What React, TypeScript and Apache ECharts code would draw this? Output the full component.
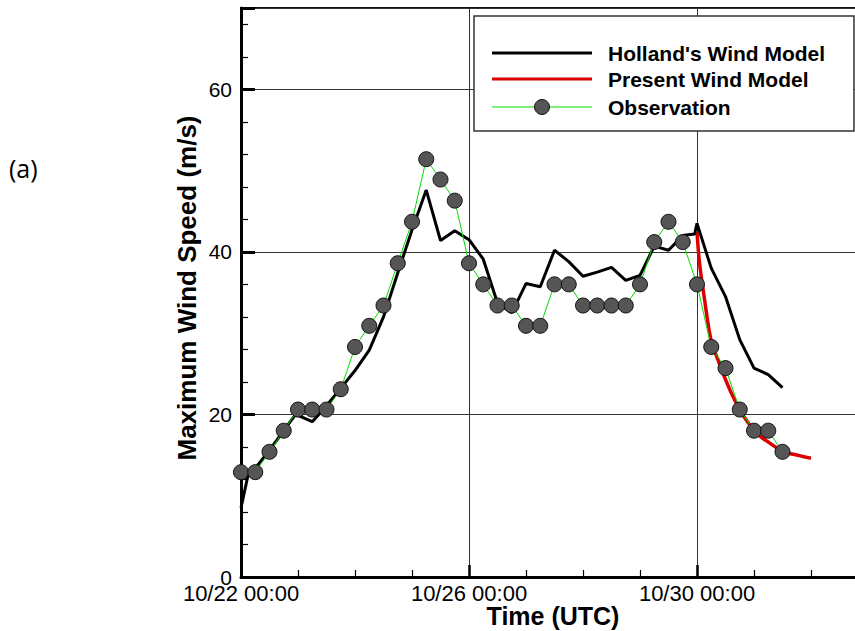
import React, { useEffect, useRef } from "react";
import * as echarts from "echarts";

// Hours since 10/22 00:00 UTC
const xTickLabels = ["10/22 00:00", "10/26 00:00", "10/30 00:00"];

const obsHours = [
  0, 6, 12, 18, 24, 30, 36, 42, 48, 54, 60, 66, 72, 78, 84, 90, 96, 102, 108,
  114, 120, 126, 132, 138, 144, 150, 156, 162, 168, 174, 180, 186, 192, 198,
  204, 210, 216, 222, 228,
];
const obsValues = [
  12.9, 12.9, 15.4, 18.0, 20.6, 20.6, 20.6, 23.1, 28.3, 30.9, 33.4, 38.6, 43.7,
  51.4, 48.9, 46.3, 38.6, 36.0, 33.4, 33.4, 30.9, 30.9, 36.0, 36.0, 33.4, 33.4,
  33.4, 33.4, 36.0, 41.2, 43.7, 41.2, 36.0, 28.3, 25.7, 20.6, 18.0, 18.0, 15.4,
];

const hollandHours = [
  0, 3, 6, 12, 18, 23, 30, 34, 42, 48, 54, 60, 66, 72, 78, 84, 90, 96, 102,
  108, 114, 120, 126, 132, 138, 144, 150, 156, 162, 168, 174, 180, 186, 191,
  192, 198, 204, 210, 216, 222, 228,
];
const hollandValues = [
  8.5, 12.6, 13.4, 15.6, 18.0, 20.0, 19.1, 20.4, 23.2, 25.4, 27.9, 32.0, 37.4,
  42.7, 47.6, 41.4, 42.6, 41.5, 39.1, 33.7, 32.5, 36.1, 35.7, 40.2, 38.8, 37.0,
  37.5, 38.1, 36.5, 37.1, 40.7, 40.2, 42.0, 42.2, 43.5, 38.0, 34.5, 29.2, 25.7,
  24.9, 23.3,
];

const presentHours = [
  192, 193, 195, 198, 201, 204, 207, 210, 213, 216, 219, 222, 225, 228, 231,
  234, 237, 240,
];
const presentValues = [
  42.5, 38.8, 34.5, 29.0, 26.6, 24.3, 22.3, 20.6, 19.2, 18.1, 17.2, 16.6, 16.0,
  15.5, 15.2, 15.0, 14.8, 14.6,
];

const pair = (xs: number[], ys: number[]) => xs.map((x, i) => [x, ys[i]]);

const FONT = "'Liberation Sans', Arial, sans-serif";

export default function App() {
  const ref = useRef<HTMLDivElement>(null);

  useEffect(() => {
    document.body.style.margin = "0";
    if (!ref.current) return;
    const chart = echarts.init(ref.current, undefined, { renderer: "svg" });

    const legendTop = 16;
    const legendRows = [53, 79, 107];

    chart.setOption({
      animation: false,
      backgroundColor: "#fff",
      grid: {
        show: true,
        left: 241,
        top: 8,
        width: 627,
        height: 569,
        borderColor: "#111",
        borderWidth: 2,
        backgroundColor: "transparent",
      },
      xAxis: [
        {
          type: "value",
          min: 0,
          max: 264,
          interval: 96,
          position: "bottom",
          axisLine: { show: true, lineStyle: { color: "#000", width: 3 } },
          axisTick: { show: true, inside: true, length: 12, lineStyle: { color: "#000", width: 2.5 } },
          splitLine: { show: true, lineStyle: { color: "#333", width: 1 } },
          axisLabel: {
            color: "#000",
            fontFamily: FONT,
            fontSize: 22,
            margin: 5,
            formatter: (v: number) =>
              v % 96 === 0 && v / 96 < xTickLabels.length ? xTickLabels[v / 96] : "",
          },
        },
        {
          type: "value",
          min: 0,
          max: 264,
          interval: 24,
          position: "bottom",
          axisLine: { show: false },
          axisTick: { show: true, inside: true, length: 7, lineStyle: { color: "#000", width: 1.2 } },
          splitLine: { show: false },
          axisLabel: { show: false },
        },
      ],
      yAxis: [
        {
          type: "value",
          min: 0,
          max: 70,
          interval: 20,
          position: "left",
          axisLine: { show: true, lineStyle: { color: "#000", width: 3 } },
          axisTick: { show: true, inside: true, length: 14, lineStyle: { color: "#000", width: 3 } },
          splitLine: { show: true, lineStyle: { color: "#333", width: 1 } },
          axisLabel: {
            color: "#000",
            fontFamily: FONT,
            fontSize: 21,
            margin: 9,
            formatter: (v: number) => (v % 20 === 0 ? String(v) : ""),
          },
        },
        {
          type: "value",
          min: 0,
          max: 70,
          interval: 4,
          position: "left",
          axisLine: { show: false },
          axisTick: { show: true, inside: true, length: 7, lineStyle: { color: "#000", width: 1.2 } },
          splitLine: { show: false },
          axisLabel: { show: false },
        },
      ],
      series: [
        {
          name: "Holland's Wind Model",
          type: "line",
          xAxisIndex: 0,
          yAxisIndex: 0,
          data: pair(hollandHours, hollandValues),
          symbol: "none",
          lineStyle: { color: "#000", width: 3 },
          z: 3,
        },
        {
          name: "Present Wind Model",
          type: "line",
          xAxisIndex: 0,
          yAxisIndex: 0,
          data: pair(presentHours, presentValues),
          symbol: "none",
          smooth: 0.3,
          lineStyle: { color: "#dd0000", width: 3.5 },
          z: 2,
        },
        {
          name: "Observation",
          type: "line",
          xAxisIndex: 0,
          yAxisIndex: 0,
          data: pair(obsHours, obsValues),
          symbol: "circle",
          symbolSize: 15,
          lineStyle: { color: "#00dd00", width: 1 },
          itemStyle: { color: "#555555", borderColor: "#111", borderWidth: 1 },
          z: 4,
        },
      ],
      graphic: [
        {
          type: "rect",
          shape: { x: 474, y: legendTop, width: 380, height: 115 },
          style: { fill: "#fff", stroke: "#333", lineWidth: 1.5 },
          z: 100,
        },
        {
          type: "line",
          shape: { x1: 492, y1: legendRows[0], x2: 592, y2: legendRows[0] },
          style: { stroke: "#000", lineWidth: 3 },
          z: 101,
        },
        {
          type: "line",
          shape: { x1: 492, y1: legendRows[1], x2: 592, y2: legendRows[1] },
          style: { stroke: "#dd0000", lineWidth: 3 },
          z: 101,
        },
        {
          type: "line",
          shape: { x1: 492, y1: legendRows[2], x2: 592, y2: legendRows[2] },
          style: { stroke: "#00dd00", lineWidth: 1 },
          z: 101,
        },
        {
          type: "circle",
          shape: { cx: 542, cy: legendRows[2], r: 7.5 },
          style: { fill: "#555555", stroke: "#111", lineWidth: 1 },
          z: 102,
        },
        ...["Holland's Wind Model", "Present Wind Model", "Observation"].map((t, i) => ({
          type: "text",
          x: 608,
          y: legendRows[i],
          style: {
            text: t,
            fill: "#000",
            font: `bold 21px ${FONT}`,
            textAlign: "left",
            textVerticalAlign: "middle",
          },
          z: 102,
        })),
        {
          type: "text",
          x: 187,
          y: 288,
          rotation: Math.PI / 2,
          style: {
            text: "Maximum Wind Speed (m/s)",
            fill: "#000",
            font: `bold 26px ${FONT}`,
            textAlign: "center",
            textVerticalAlign: "middle",
          },
        },
        {
          type: "text",
          x: 553,
          y: 616,
          style: {
            text: "Time (UTC)",
            fill: "#000",
            font: `bold 25px ${FONT}`,
            textAlign: "center",
            textVerticalAlign: "middle",
          },
        },
        {
          type: "text",
          x: 9,
          y: 168,
          style: {
            text: "(a)",
            fill: "#000",
            font: `25px 'Open Sans', sans-serif`,
            textAlign: "left",
            textVerticalAlign: "middle",
          },
        },
      ],
    });

    return () => chart.dispose();
  }, []);

  return (
    <div style={{ width: 855, height: 631, overflow: "hidden", position: "relative" }}>
      <div ref={ref} style={{ width: 900, height: 631 }} />
    </div>
  );
}
